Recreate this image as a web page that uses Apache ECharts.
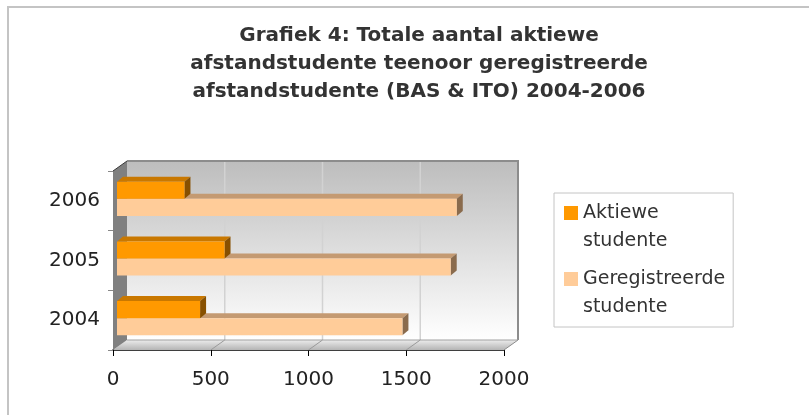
<!DOCTYPE html>
<html>
<head>
<meta charset="utf-8">
<script src="https://cdn.jsdelivr.net/npm/echarts@6/dist/echarts.min.js"></script>
<style>
html,body{margin:0;padding:0;background:#fff;}
#chart{width:809px;height:415px;}
</style>
</head>
<body>
<div id="chart"></div>
<script>
// ---- data ----
const years = ['2004', '2005', '2006'];
const aktiewe = [425, 550, 345];
const geregistreerde = [1460, 1707, 1738];
const xTicks = [0, 500, 1000, 1500, 2000];
const seriesNames = ['Aktiewe studente', 'Geregistreerde studente'];
const titleText = 'Grafiek 4: Totale aantal aktiewe\nafstandstudente teenoor geregistreerde\nafstandstudente (BAS & ITO) 2004-2006';

// ---- style constants ----
const FONT = 'DejaVu Sans';
const WALL_DX = 14, WALL_DY = -10;   // 3D depth of the plot box
const BAR_OFF_X = 4, BAR_OFF_Y = -2; // bars sit a little behind the front plane
const BAR_DX = 6, BAR_DY = -5;       // depth of each bar
const BAR_FRAC = 0.287;              // bar thickness as part of the category band

const chart = echarts.init(document.getElementById('chart'), null, {renderer: 'canvas'});

function wallsRender(params, api) {
  const cs = params.coordSys;
  const x = cs.x, y = cs.y, w = cs.width, h = cs.height;
  const children = [];
  children.push({
    type: 'rect',
    shape: {x: x + WALL_DX, y: y + WALL_DY, width: w, height: h},
    style: {fill: new echarts.graphic.LinearGradient(0, 0, 0, 1, [
      {offset: 0, color: '#bdbdbd'}, {offset: 1, color: '#ffffff'}])}
  });
  children.push({
    type: 'polygon',
    shape: {points: [[x, y + h], [x + WALL_DX, y + h + WALL_DY], [x + w + WALL_DX, y + h + WALL_DY], [x + w, y + h]]},
    style: {fill: new echarts.graphic.LinearGradient(0, 0, 0, 1, [
      {offset: 0, color: '#ececec'}, {offset: 1, color: '#b4b4b4'}])}
  });
  children.push({
    type: 'polygon',
    shape: {points: [[x, y], [x + WALL_DX, y + WALL_DY], [x + WALL_DX, y + h + WALL_DY], [x, y + h]]},
    style: {fill: '#808080'}
  });
  xTicks.slice(1, -1).forEach(function (t) {
    const px = api.coord([t, 0])[0];
    children.push({
      type: 'line',
      shape: {x1: px + WALL_DX, y1: y + WALL_DY, x2: px + WALL_DX, y2: y + h + WALL_DY},
      style: {stroke: '#d2d2d2', lineWidth: 1.5}
    });
    children.push({
      type: 'line',
      shape: {x1: px, y1: y + h, x2: px + WALL_DX, y2: y + h + WALL_DY},
      style: {stroke: '#9a9a9a', lineWidth: 1}
    });
  });
  children.push({
    type: 'polyline',
    shape: {points: [[x + WALL_DX, y + WALL_DY], [x + w + WALL_DX, y + WALL_DY], [x + w + WALL_DX, y + h + WALL_DY]]},
    style: {stroke: '#8c8c8c', lineWidth: 2, fill: null}
  });
  children.push({
    type: 'line',
    shape: {x1: x, y1: y, x2: x + WALL_DX, y2: y + WALL_DY},
    style: {stroke: '#3a3a3a', lineWidth: 1}
  });
  children.push({
    type: 'line',
    shape: {x1: x + w, y1: y + h, x2: x + w + WALL_DX, y2: y + h + WALL_DY},
    style: {stroke: '#8c8c8c', lineWidth: 1}
  });
  children.push({
    type: 'line',
    shape: {x1: x + WALL_DX, y1: y + h + WALL_DY, x2: x + w + WALL_DX, y2: y + h + WALL_DY},
    style: {stroke: '#a0a0a0', lineWidth: 1}
  });
  return {type: 'group', children: children};
}

function barRender(slot, colors) {
  return function (params, api) {
    const v = api.value(0), c = api.value(1);
    const p0 = api.coord([0, c]);
    const p1 = api.coord([v, c]);
    const band = api.size([0, 1])[1];
    const h = band * BAR_FRAC;
    const cy = p0[1] + BAR_OFF_Y;
    const yT = slot === 0 ? cy - h : cy;
    const xL = p0[0] + BAR_OFF_X, xR = p1[0] + BAR_OFF_X;
    return {
      type: 'group',
      children: [
        {type: 'polygon', shape: {points: [[xL, yT], [xL + BAR_DX, yT + BAR_DY], [xR + BAR_DX, yT + BAR_DY], [xR, yT]]},
          style: {fill: colors.top}},
        {type: 'polygon', shape: {points: [[xR, yT], [xR + BAR_DX, yT + BAR_DY], [xR + BAR_DX, yT + h + BAR_DY], [xR, yT + h]]},
          style: {fill: colors.side}},
        {type: 'rect', shape: {x: xL, y: yT, width: xR - xL, height: h},
          style: {fill: colors.front}}
      ]
    };
  };
}

const orange = {front: '#ff9900', top: '#c97800', side: '#875000'};
const peach = {front: '#ffcc99', top: '#c49a72', side: '#8a6b4d'};

const option = {
  backgroundColor: '#ffffff',
  animation: false,
  title: {
    text: titleText,
    left: 414,
    top: 17,
    textAlign: 'center',
    textStyle: {fontFamily: FONT, fontWeight: 'bold', fontSize: 20, lineHeight: 28, color: '#333333'}
  },
  legend: {
    orient: 'vertical',
    left: 554,
    top: 193,
    data: seriesNames,
    icon: 'path://M0,0L14,0L14,14L0,14ZM0,42L0.01,42',
    itemWidth: 14,
    itemHeight: 42,
    itemGap: 10,
    padding: [6, 8, 6, 10],
    borderColor: '#c4c4c4',
    borderWidth: 1,
    formatter: function (name) { return name.replace(' ', '\n'); },
    textStyle: {fontFamily: FONT, fontSize: 19, lineHeight: 28, color: '#333333'}
  },
  grid: {left: 113, top: 171, width: 391, height: 179, containLabel: false},
  xAxis: {
    type: 'value',
    min: xTicks[0],
    max: xTicks[xTicks.length - 1],
    interval: xTicks[1] - xTicks[0],
    axisLine: {show: true, lineStyle: {color: '#000000', width: 1.5}},
    axisTick: {show: true, length: 6, lineStyle: {color: '#000000'}},
    splitLine: {show: false},
    axisLabel: {fontFamily: FONT, fontSize: 20, color: '#222222', margin: 20,
      formatter: function (v) { return String(v); }}
  },
  yAxis: {
    type: 'category',
    data: years,
    axisLine: {show: true, lineStyle: {color: '#555555', width: 1}},
    axisTick: {show: true, length: 5, lineStyle: {color: '#888888'}},
    splitLine: {show: false},
    axisLabel: {fontFamily: FONT, fontSize: 20, color: '#222222', margin: 13, padding: [4, 0, 0, 0]}
  },
  graphic: [{
    type: 'rect',
    shape: {x: 8, y: 7, width: 1000, height: 600},
    style: {fill: null, stroke: '#c4c4c4', lineWidth: 2},
    silent: true,
    z: -10
  }],
  series: [
    {
      type: 'custom', name: 'walls', silent: true, z: 1,
      data: [[0, 0]], encode: {x: 0, y: 1},
      renderItem: wallsRender
    },
    {
      type: 'custom', name: seriesNames[1], z: 2,
      itemStyle: {color: peach.front},
      data: geregistreerde.map(function (v, i) { return [v, i]; }),
      encode: {x: 0, y: 1},
      renderItem: barRender(1, peach)
    },
    {
      type: 'custom', name: seriesNames[0], z: 3,
      itemStyle: {color: orange.front},
      data: aktiewe.map(function (v, i) { return [v, i]; }),
      encode: {x: 0, y: 1},
      renderItem: barRender(0, orange)
    }
  ]
};
chart.setOption(option);
</script>
</body>
</html>
